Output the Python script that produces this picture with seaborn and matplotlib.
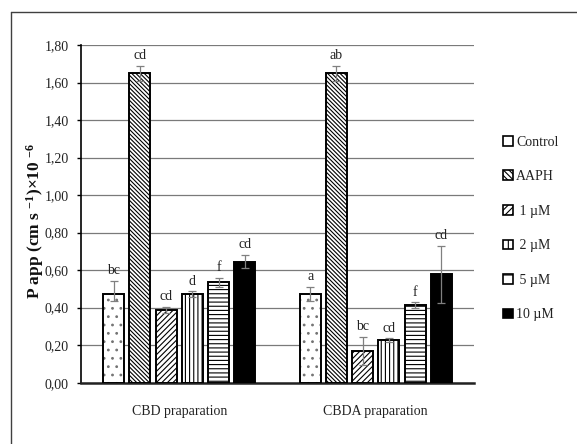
import numpy as np
import pandas as pd
import matplotlib
matplotlib.use("Agg")
import matplotlib.pyplot as plt
from matplotlib.patches import Patch
from matplotlib.lines import Line2D
import seaborn as sns

# ---------------- data ----------------
categories = ["CBD praparation", "CBDA praparation"]
treatments = ["Control", "AAPH", "1 µM", "2 µM", "5 µM", "10 µM"]
legend_labels = ["Control", "AAPH", " 1 µM", " 2 µM", " 5 µM", "10 µM"]

cbd_values = [0.473, 1.650, 0.388, 0.473, 0.535, 0.645]
cbda_values = [0.473, 1.650, 0.171, 0.228, 0.413, 0.578]

cbd_err_low = [0.036, 0.040, 0.018, 0.015, 0.025, 0.036]
cbd_err_high = [0.071, 0.040, 0.018, 0.015, 0.025, 0.036]
cbda_err_low = [0.039, 0.040, 0.075, 0.010, 0.016, 0.153]
cbda_err_high = [0.039, 0.040, 0.075, 0.010, 0.016, 0.153]

cbd_letters = ["bc", "cd", "cd", "d", "f", "cd"]
cbda_letters = ["a", "ab", "bc", "cd", "f", "cd"]

yticks = [0.0, 0.2, 0.4, 0.6, 0.8, 1.0, 1.2, 1.4, 1.6, 1.8]
ytick_labels = ["0,00", "0,20", "0,40", "0,60", "0,80", "1,00", "1,20", "1,40", "1,60", "1,80"]

# ---------------- styling ----------------
fills = ["white", "white", "white", "white", "white", "black"]
hatches = ["..", "\\" * 8, "/" * 6, "||||", "----", ""]
legend_hatches = ["", "\\" * 6, "/" * 5, "|", "-", ""]

sns.set_theme(style="white")
plt.rcParams["font.family"] = ["Liberation Serif", "DejaVu Serif"]
plt.rcParams["mathtext.fontset"] = "custom"
plt.rcParams["mathtext.rm"] = "Liberation Serif:bold"
plt.rcParams["mathtext.it"] = "Liberation Serif:bold"
plt.rcParams["mathtext.bf"] = "Liberation Serif:bold"
plt.rcParams["hatch.linewidth"] = 0.8

df = pd.DataFrame({
    "category": [c for c in categories for _ in treatments],
    "treatment": treatments * len(categories),
    "value": cbd_values + cbda_values,
})

fig = plt.figure(figsize=(5.77, 4.44), dpi=100)
ax = fig.add_axes([81 / 577, 1 - 382.7 / 444, (474 - 81) / 577, (382.7 - 45) / 444])

sns.barplot(data=df, x="category", y="value", hue="treatment",
            order=categories, hue_order=treatments, palette=fills,
            saturation=1, edgecolor="black", linewidth=1.4, gap=0.2,
            errorbar=None, legend=False, ax=ax, zorder=3)

bars = sorted([p for p in ax.patches if p.get_height() > 0], key=lambda p: p.get_x())
hatch_seq = hatches * len(categories)
for p, h in zip(bars, hatch_seq):
    p.set_hatch(h)
    p.set_edgecolor("black")
    p.set_zorder(3)
    if h == "..":
        try:
            p._hatch_color = (0.45, 0.45, 0.45, 1.0)
        except Exception:
            pass

xs = [p.get_x() + p.get_width() / 2 for p in bars]
vals = cbd_values + cbda_values
elow = cbd_err_low + cbda_err_low
ehigh = cbd_err_high + cbda_err_high
letters = cbd_letters + cbda_letters

ax.errorbar(xs, vals, yerr=[elow, ehigh], fmt="none", ecolor="#808080",
            elinewidth=0.9, capsize=3.2, capthick=0.9, zorder=4)

for x, v, e, t in zip(xs, vals, ehigh, letters):
    ax.annotate(t, (x, v + e), xytext=(0, 2.5), textcoords="offset points",
                ha="center", va="bottom", fontsize=10, color="#222222")

ax.set_xlim(-0.5, 1.5)
ax.set_ylim(0, 1.8)
ax.set_yticks(yticks)
ax.set_yticklabels(ytick_labels)
ax.yaxis.grid(True, color="#7a7a7a", linewidth=0.9, zorder=0)
ax.set_axisbelow(True)
ax.tick_params(axis="y", which="both", left=True, length=3, width=1, color="black",
               pad=6, labelsize=10, labelcolor="#222222")
ax.tick_params(axis="x", length=0, pad=16, labelsize=10, labelcolor="#222222")
for s in ["top", "right"]:
    ax.spines[s].set_visible(False)
ax.spines["left"].set_color("black")
ax.spines["left"].set_linewidth(1.2)
ax.spines["bottom"].set_color("#222222")
ax.spines["bottom"].set_linewidth(1.8)
ax.set_xlabel("")
ax.set_ylabel(r"P app (cm s $^{-1}$)×10 $^{-6}$", fontsize=12.5, fontweight="bold",
              color="#111111")
ax.yaxis.set_label_coords(-0.088, 0.48)

handles = [Patch(facecolor=f, edgecolor="black", hatch=h, linewidth=1.2)
           for f, h in zip(fills, legend_hatches)]
fig.legend(handles, legend_labels, loc="center left",
           bbox_to_anchor=(503 / 577, 1 - 228.5 / 444), frameon=False,
           fontsize=10, handlelength=0.7, handleheight=0.7, handletextpad=0.25,
           labelspacing=1.55, borderpad=0, borderaxespad=0, labelcolor="#222222")

# chart-area border (partially visible)
fig.add_artist(Line2D([11 / 577, 11 / 577], [0, 1 - 12 / 444], transform=fig.transFigure,
                      color="#404040", linewidth=1))
fig.add_artist(Line2D([11 / 577, 1], [1 - 12 / 444, 1 - 12 / 444], transform=fig.transFigure,
                      color="#404040", linewidth=1))

fig.savefig("out.png", dpi=100)
